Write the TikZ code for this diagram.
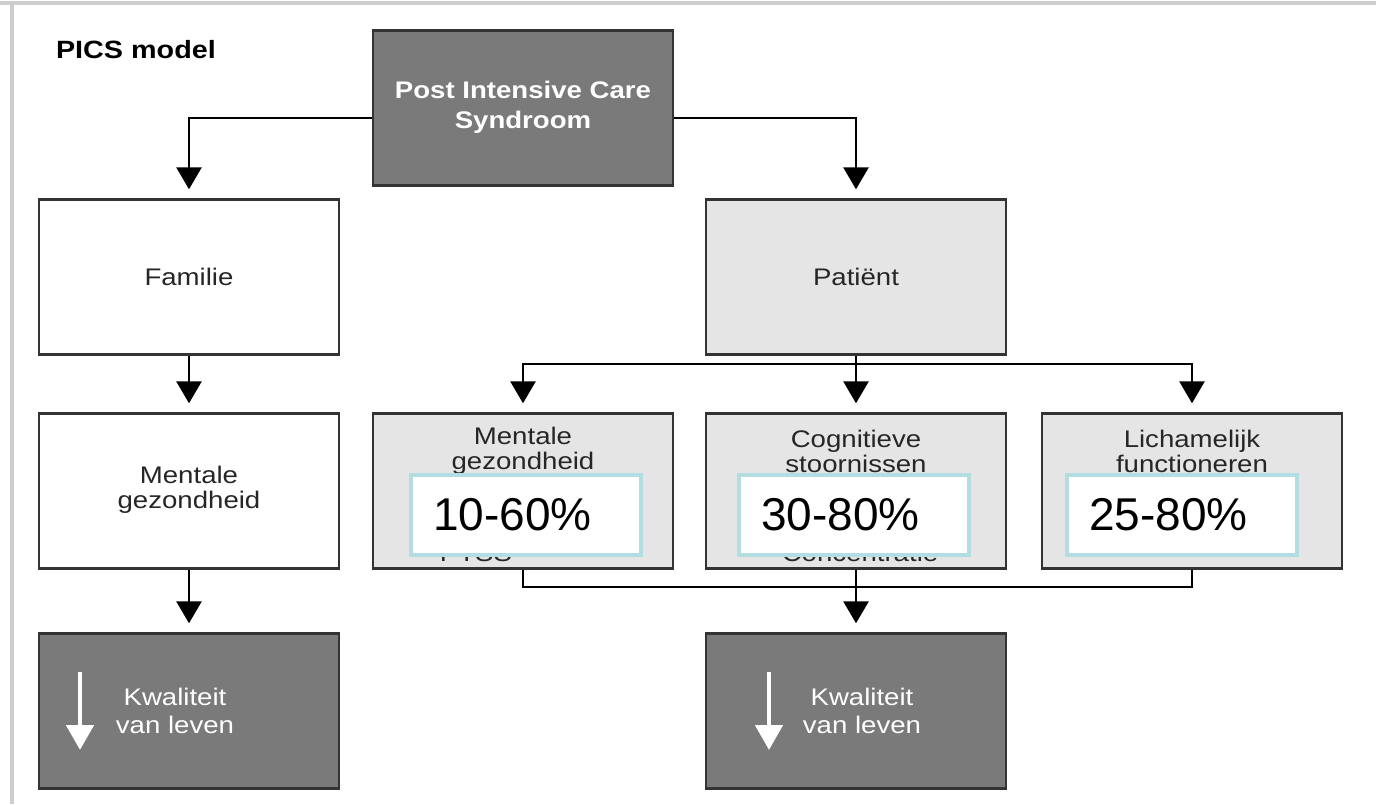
\documentclass[tikz,border=0pt]{standalone}
\usepackage{fontspec}
\setmainfont{Liberation Sans}[FakeStretch=1.15]
\newfontfamily\pctfont{Liberation Sans}
\usetikzlibrary{arrows.meta}
\definecolor{boxdark}{RGB}{122,122,122}
\definecolor{boxlight}{RGB}{229,229,229}
\definecolor{pctline}{RGB}{178,222,226}
\definecolor{rimgray}{RGB}{205,205,205}
\begin{document}
\begin{tikzpicture}[x=0.5pt, y=-0.5pt,
    box/.style={draw=black!80, line width=1.2pt, minimum width=150pt, minimum height=77.5pt, inner sep=0pt},
    darkbox/.style={box, fill=boxdark},
    lightbox/.style={box, fill=boxlight},
    whitebox/.style={box, fill=white},
    lbl/.style={font=\fontsize{12}{12.5}\selectfont, align=center, text=black!85},
    wlbl/.style={font=\fontsize{12}{14}\selectfont, align=center, text=white},
    pctbox/.style={draw=pctline, line width=2pt, fill=white, minimum width=115pt, minimum height=40pt,
      inner xsep=11pt, text width=93pt, align=left, font=\pctfont\fontsize{23}{24}\selectfont},
    arr/.style={line width=1.4pt, -{Triangle[width=12.5pt,length=11pt]}, shorten >=4.5pt}]
  \useasboundingbox (0,0) rectangle (1376,804);
  % frame of the scan
  \draw[rimgray, line width=2pt] (0,3) -- (1376,3);
  \draw[rimgray, line width=2pt] (12,3) -- (12,804);
  \node[anchor=base west, font=\bfseries\fontsize{12.5}{14}\selectfont] (title) at (49,58) {PICS model};
  % top
  \node[darkbox] (pics) at (523,108) {};
  \node[wlbl, font=\bfseries\fontsize{12}{15}\selectfont] (picst) at (523,107) {Post Intensive Care\\Syndroom};
  % family column
  \node[whitebox] (fam) at (189,277) {};
  \node[lbl] (famt) at (189,277) {Familie};
  \node[whitebox] (mentL) at (189,491) {};
  \node[lbl] (mentLt) at (189,490) {Mentale\\gezondheid};
  \node[darkbox] (kwalL) at (189,711) {};
  \node[wlbl] (kwalLt) at (175,711) {Kwaliteit\\van leven};
  \draw[white, line width=2.4pt, -{Triangle[width=13.5pt,length=12.5pt]}] (80,672) -- (80,750);
  % patient column
  \node[lightbox] (pat) at (856,277) {};
  \node[lbl] (patt) at (856,277) {Patiënt};
  \node[lightbox] (mentR) at (523,491) {};
  \node[lbl] (mentRt) at (523,451) {Mentale\\gezondheid};
  \node[lbl] (mentRh) at (476,553) {PTSS};
  \node[lightbox] (cogn) at (856,491) {};
  \node[lbl] (cognt) at (856,451) {Cognitieve\\stoornissen};
  \node[lbl] (cognh) at (860,553) {Concentratie};
  \node[lightbox] (lich) at (1192,491) {};
  \node[lbl] (licht) at (1192,451) {Lichamelijk\\functioneren};
  \node[darkbox] (kwalR) at (856,711) {};
  \node[wlbl] (kwalRt) at (862,711) {Kwaliteit\\van leven};
  \draw[white, line width=2.4pt, -{Triangle[width=13.5pt,length=12.5pt]}] (769,672) -- (769,750);
  % percentages
  \node[pctbox] (pctM) at (526,515) {10-60\%};
  \node[pctbox] (pctC) at (854,515) {30-80\%};
  \node[pctbox] (pctL) at (1182,515) {25-80\%};
  % connectors
  \draw[arr] ([yshift=-5pt]pics.west) -| (fam.north);
  \draw[arr] ([yshift=-5pt]pics.east) -| (pat.north);
  \draw[arr] (fam.south) -- (mentL.north);
  \draw[arr] (mentL.south) -- (kwalL.north);
  \coordinate (split) at (856,364);
  \draw[line width=1.4pt] (pat.south) -- (split);
  \draw[arr] (split) -| (mentR.north);
  \draw[arr] (split) -- (cogn.north);
  \draw[arr] (split) -| (lich.north);
  \coordinate (merge) at (856,587);
  \draw[line width=1.4pt] (mentR.south) |- (merge);
  \draw[line width=1.4pt] (lich.south) |- (merge);
  \draw[arr] (cogn.south) -- (kwalR.north);
\end{tikzpicture}
\end{document}
